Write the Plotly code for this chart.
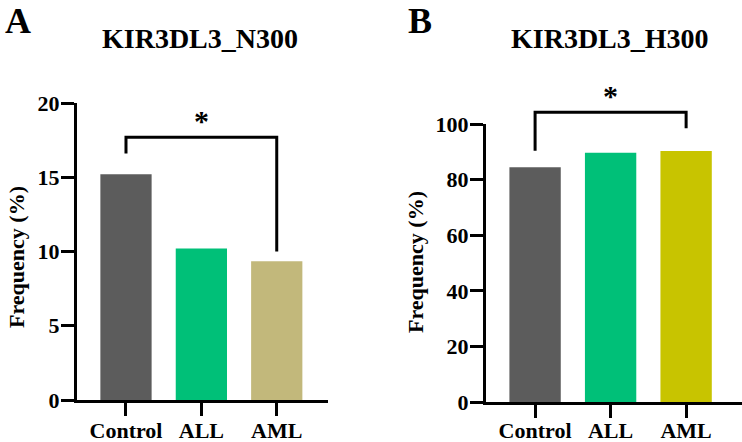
import plotly.graph_objects as go

W, H = 742, 442

categories = ["Control", "ALL", "AML"]
n300_values = [15.2, 10.2, 9.35]
h300_values = [84.4, 89.7, 90.3]
n300_colors = ["#5c5c5c", "#00c078", "#c2b87b"]
h300_colors = ["#5c5c5c", "#00c078", "#c8c400"]
n300_ticks = [0, 5, 10, 15, 20]
h300_ticks = [0, 20, 40, 60, 80, 100]

# significance brackets: (left idx, right idx, top y, left leg bottom, right leg bottom, star y)
n300_bracket = [0, 2, 17.7, 16.6, 10.0, 18.85]
h300_bracket = [0, 2, 104.2, 90.4, 98.5, 110.4]

FONT = "Liberation Serif"

def px(x):
    return x / W

def py(y):
    return 1 - y / H

# axis geometry (pixels)
A_X = (77, 328)
A_Y = (400, 103)
B_X = (486, 742)
B_Y = (402, 124)
A_RANGE = (0, 20)
B_RANGE = (0, 100)

fig = go.Figure()
fig.add_trace(go.Bar(x=list(range(3)), y=n300_values, marker_color=n300_colors,
                     marker_line_width=0, width=0.68, xaxis="x", yaxis="y"))
fig.add_trace(go.Bar(x=list(range(3)), y=h300_values, marker_color=h300_colors,
                     marker_line_width=0, width=0.68, xaxis="x2", yaxis="y2"))

axis_common = dict(showline=True, linecolor="black", linewidth=3, ticks="outside",
                   tickwidth=3, tickcolor="black", ticklen=13, showgrid=False,
                   zeroline=False, tickfont=dict(family=FONT, size=22, color="black"),
                   fixedrange=True, automargin=False)

fig.update_layout(
    width=W, height=H, autosize=False,
    margin=dict(l=0, r=0, t=0, b=0, pad=0, autoexpand=False),
    plot_bgcolor="white", paper_bgcolor="white", showlegend=False,
    font=dict(family=FONT, color="black"),
    xaxis=dict(domain=[px(A_X[0]), px(A_X[1])], range=[-0.65, 2.68], tickvals=[0, 1, 2],
               ticktext=[f"<b>{c}</b>" for c in categories], anchor="y", **axis_common),
    yaxis=dict(domain=[py(A_Y[0]), py(A_Y[1])], range=list(A_RANGE), tickvals=n300_ticks,
               ticktext=[f"<b>{t}</b>" for t in n300_ticks], anchor="x", **axis_common),
    xaxis2=dict(domain=[px(B_X[0]), px(B_X[1])], range=[-0.65, 2.74], tickvals=[0, 1, 2],
                ticktext=[f"<b>{c}</b>" for c in categories], anchor="y2", **axis_common),
    yaxis2=dict(domain=[py(B_Y[0]), py(B_Y[1])], range=list(B_RANGE), tickvals=h300_ticks,
                ticktext=[f"<b>{t}</b>" for t in h300_ticks], anchor="x2", **axis_common),
)
fig.update_xaxes(tickfont_size=22)
fig.update_layout(xaxis_ticklabelstandoff=-4, xaxis2_ticklabelstandoff=-6)
fig.update_yaxes(ticklabelstandoff=-3)

def yscale(v, ypx, rng):
    # data value -> paper coordinate, using the axis domain and range
    d0, d1 = py(ypx[0]), py(ypx[1])
    return d0 + (v - rng[0]) / (rng[1] - rng[0]) * (d1 - d0)

def bracket(b, xr, ypx, rng):
    l, r, top, lb, rb, sy = b
    t, y_l, y_r = (yscale(v, ypx, rng) for v in (top, lb, rb))
    fig.add_shape(type="path", xref=xr, yref="paper",
                  path=f"M {l} {y_l} L {l} {t} L {r} {t} L {r} {y_r}",
                  line=dict(color="black", width=3))
    fig.add_annotation(x=(l + r) / 2, y=yscale(sy, ypx, rng), xref=xr, yref="paper",
                       text="<b>*</b>", showarrow=False,
                       font=dict(family=FONT, size=30, color="black"), yanchor="middle")

bracket(n300_bracket, "x", A_Y, A_RANGE)
bracket(h300_bracket, "x2", B_Y, B_RANGE)

def ann(text, x, y, size, angle=0):
    fig.add_annotation(x=px(x), y=py(y), xref="paper", yref="paper", text=text,
                       showarrow=False, textangle=angle, xanchor="center", yanchor="middle",
                       font=dict(family=FONT, size=size, color="black"))

ann("<b>A</b>", 18, 21, 36)
ann("<b>B</b>", 420, 21, 36)
ann("<b>KIR3DL3_N300</b>", 200, 38, 28)
ann("<b>KIR3DL3_H300</b>", 610, 38, 28)
ann("<b>Frequency (%)</b>", 16, 257, 22, -90)
ann("<b>Frequency (%)</b>", 415, 262, 22, -90)

fig.write_html("out.html")
